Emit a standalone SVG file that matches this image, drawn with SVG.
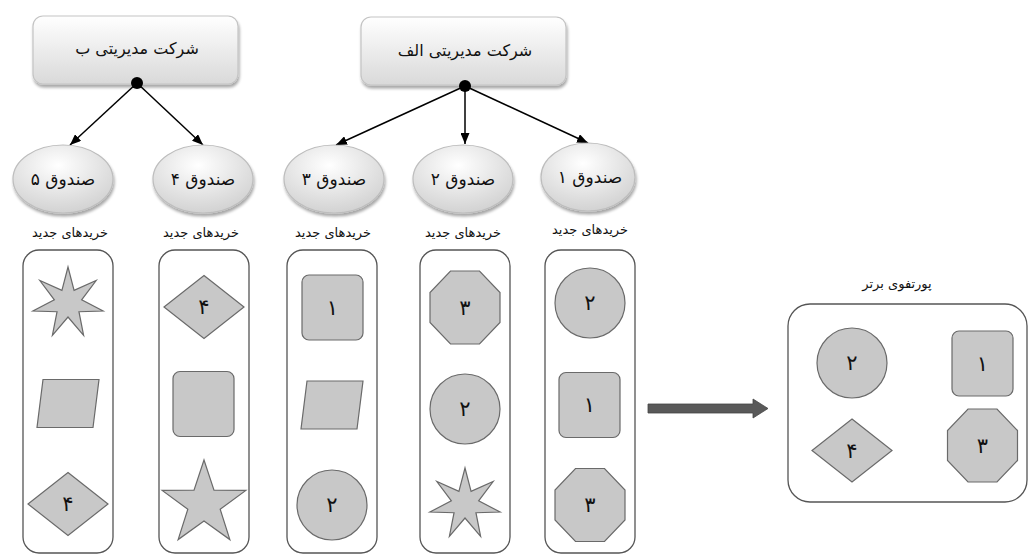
<svg xmlns="http://www.w3.org/2000/svg" xmlns:xlink="http://www.w3.org/1999/xlink" width="1029" height="556" viewBox="0 0 1029 556">
<style>
text{font-family:"DejaVu Sans","Noto Sans",sans-serif;fill:#111;direction:rtl;text-anchor:middle;dominant-baseline:central}
.head{font-size:16px}
.fund{font-size:17px}
.lbl{font-size:13px}
.dig{font-size:21px}
.col{fill:#fff;stroke:#555;stroke-width:1.3}
.shp{fill:#c8c8c8;stroke:#6a6a6a;stroke-width:1.2}
.box{fill:url(#gBox);stroke:#c4c4c4;stroke-width:1.2;filter:url(#sh)}
.ell{fill:url(#gEll);stroke:#bdbdbd;stroke-width:1.2;filter:url(#sh)}
.con{stroke:#000;stroke-width:1.5;fill:none;marker-end:url(#ah)}
</style>
<defs>
<linearGradient id="gBox" x1="0" y1="0" x2="0" y2="1"><stop offset="0" stop-color="#ffffff"/><stop offset="1" stop-color="#d9d9d9"/></linearGradient>
<radialGradient id="gEll" cx="0.45" cy="0.3" r="0.75"><stop offset="0" stop-color="#ffffff"/><stop offset="1" stop-color="#cfcfcf"/></radialGradient>
<filter id="sh" x="-20%" y="-20%" width="140%" height="150%"><feGaussianBlur in="SourceAlpha" stdDeviation="1.5"/><feOffset dx="1" dy="2.5" result="b"/><feComponentTransfer><feFuncA type="linear" slope="0.35"/></feComponentTransfer><feMerge><feMergeNode/><feMergeNode in="SourceGraphic"/></feMerge></filter>
<marker id="ah" markerWidth="11" markerHeight="9" refX="11" refY="4.5" orient="auto" markerUnits="userSpaceOnUse"><path d="M0,0 L11,4.5 L0,9 Z" fill="#000"/></marker>
<path id="star7" class="shp" d="M0,-36 L6.08,-12.62 L28.15,-22.45 L13.65,-3.12 L35.1,8.01 L10.95,8.73 L15.62,32.44 L0,14 L-15.62,32.44 L-10.95,8.73 L-35.1,8.01 L-13.65,-3.12 L-28.15,-22.45 L-6.08,-12.62 Z"/>
<path id="star5" class="shp" d="M0,-44 L9.99,-13.75 L41.85,-13.6 L16.17,5.25 L25.86,35.6 L0,17 L-25.86,35.6 L-16.17,5.25 L-41.85,-13.6 L-9.99,-13.75 Z"/>
<path id="oct" class="shp" d="M-14.5,-36.5 L14.5,-36.5 L35,-15 L35,15 L14.5,36.5 L-14.5,36.5 L-35,15 L-35,-15 Z"/>
<path id="dia" class="shp" d="M0,-31.5 L40,0 L0,31.5 L-40,0 Z"/>
<path id="par" class="shp" d="M-25,-24 L31,-24 L25,24 L-31,24 Z"/>
<rect id="sq" class="shp" x="-30.5" y="-32.5" width="61" height="65" rx="7"/>
<circle id="cir" class="shp" r="35"/>
</defs>
<rect width="1029" height="556" fill="#fff"/>

<g id="connectors">
<line class="con" x1="137" y1="83" x2="70" y2="145"/>
<line class="con" x1="137" y1="83" x2="203" y2="145"/>
<line class="con" x1="465" y1="86" x2="336" y2="145"/>
<line class="con" x1="465" y1="86" x2="465" y2="144"/>
<line class="con" x1="465" y1="86" x2="588" y2="143"/>
<polygon points="648,404 753,404 753,399 768,408.5 753,418 753,413 648,413" fill="#595959" stroke="#444" stroke-width="0.8"/>
</g>

<g id="company-b">
<rect class="box" x="33" y="16" width="205" height="68" rx="10"/>
<text class="head" x="137" y="48">شرکت مدیریتی ب</text>
<circle cx="137" cy="83" r="6" fill="#000"/>
</g>
<g id="company-a">
<rect class="box" x="361" y="17" width="205" height="68" rx="10"/>
<text class="head" x="465" y="50">شرکت مدیریتی الف</text>
<circle cx="465" cy="86" r="6" fill="#000"/>
</g>

<g id="fund5">
<ellipse class="ell" cx="63" cy="179" rx="50" ry="34"/>
<text class="fund" x="63" y="179">صندوق ۵</text>
<text class="lbl" x="70" y="232">خریدهای جدید</text>
<rect class="col" x="23" y="250" width="90" height="303" rx="16"/>
<use href="#star7" x="68" y="303"/>
<use href="#par" x="68" y="403.5"/>
<use href="#dia" x="68" y="504"/>
<text class="dig" x="68" y="504">۴</text>
</g>

<g id="fund4">
<ellipse class="ell" cx="203" cy="179" rx="50" ry="34"/>
<text class="fund" x="203" y="179">صندوق ۴</text>
<text class="lbl" x="201" y="232">خریدهای جدید</text>
<rect class="col" x="159" y="250" width="90" height="303" rx="16"/>
<use href="#dia" x="204" y="307"/>
<text class="dig" x="204" y="307">۴</text>
<use href="#sq" x="203.5" y="404"/>
<use href="#star5" x="204" y="504"/>
</g>

<g id="fund3">
<ellipse class="ell" cx="334" cy="179" rx="50" ry="34"/>
<text class="fund" x="334" y="179">صندوق ۳</text>
<text class="lbl" x="333" y="232">خریدهای جدید</text>
<rect class="col" x="287" y="250" width="90" height="303" rx="16"/>
<use href="#sq" x="332.5" y="307.5"/>
<text class="dig" x="332.5" y="307.5">۱</text>
<use href="#par" x="332" y="405"/>
<use href="#cir" x="332" y="505"/>
<text class="dig" x="332" y="505">۲</text>
</g>

<g id="fund2">
<ellipse class="ell" cx="463" cy="179" rx="50" ry="34"/>
<text class="fund" x="463" y="179">صندوق ۲</text>
<text class="lbl" x="463" y="232">خریدهای جدید</text>
<rect class="col" x="420" y="250" width="90" height="303" rx="16"/>
<use href="#oct" x="465" y="307.5"/>
<text class="dig" x="465" y="307.5">۳</text>
<use href="#cir" x="465" y="409"/>
<text class="dig" x="465" y="409">۲</text>
<use href="#star7" x="465" y="504"/>
</g>

<g id="fund1">
<ellipse class="ell" cx="588" cy="177" rx="47" ry="34"/>
<text class="fund" x="590" y="177">صندوق ۱</text>
<text class="lbl" x="590" y="229">خریدهای جدید</text>
<rect class="col" x="545" y="250" width="90" height="303" rx="16"/>
<use href="#cir" x="590" y="303"/>
<text class="dig" x="590" y="303">۲</text>
<use href="#sq" x="589.5" y="405"/>
<text class="dig" x="589.5" y="405">۱</text>
<use href="#oct" x="590" y="505"/>
<text class="dig" x="590" y="505">۳</text>
</g>

<g id="portfolio">
<text class="lbl" x="897" y="283">پورتفوی برتر</text>
<rect class="col" x="788" y="304" width="239" height="198" rx="22"/>
<use href="#cir" x="852" y="363"/>
<text class="dig" x="852" y="363">۲</text>
<use href="#sq" x="982.5" y="363.5"/>
<text class="dig" x="982.5" y="363.5">۱</text>
<use href="#dia" x="852" y="450.5"/>
<text class="dig" x="852" y="450.5">۴</text>
<use href="#oct" x="982.5" y="445.5"/>
<text class="dig" x="982.5" y="445.5">۳</text>
</g>
</svg>
